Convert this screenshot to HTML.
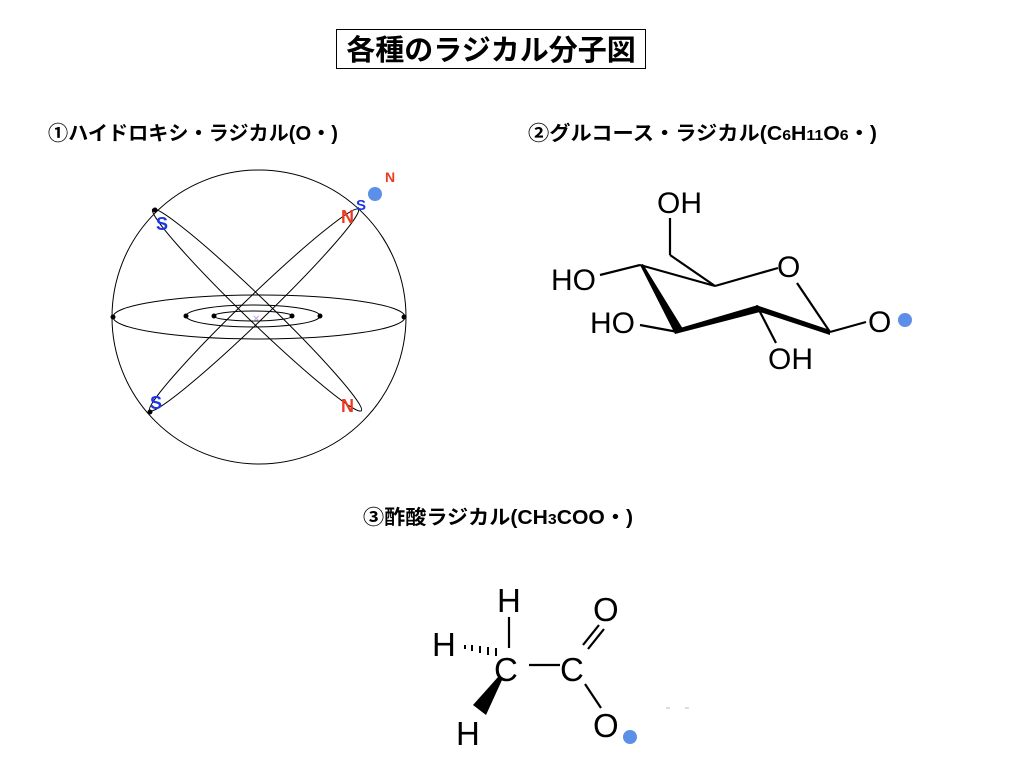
<!DOCTYPE html>
<html><head><meta charset="utf-8"><style>
html,body{margin:0;padding:0;background:#fff;}
svg{display:block}
text{font-family:"Liberation Sans","Noto Sans CJK JP",sans-serif}
</style></head><body>
<svg width="1024" height="768" viewBox="0 0 1024 768" xmlns="http://www.w3.org/2000/svg">
<rect x="336.5" y="29.5" width="309" height="39" fill="#fff" stroke="#000" stroke-width="1"/>
<text x="491" y="60" font-size="29" font-weight="bold" text-anchor="middle">各種のラジカル分子図</text>
<text x="48" y="140" font-size="20" font-weight="bold" textLength="290" lengthAdjust="spacingAndGlyphs">①ハイドロキシ・ラジカル(O・)</text>
<text x="528" y="140" font-size="20" font-weight="bold" textLength="349" lengthAdjust="spacingAndGlyphs">②グルコース・ラジカル(C<tspan font-size="15">6</tspan>H<tspan font-size="15">11</tspan>O<tspan font-size="15">6</tspan>・)</text>
<text x="363" y="524" font-size="20" font-weight="bold" textLength="270" lengthAdjust="spacingAndGlyphs">③酢酸ラジカル(CH<tspan font-size="15">3</tspan>COO・)</text>

<g fill="none" stroke="#000" stroke-width="1">
<circle cx="259" cy="317" r="147"/>
<ellipse cx="259" cy="317" rx="146" ry="22"/>
<ellipse cx="253" cy="316" rx="67" ry="11"/>
<ellipse cx="253" cy="316" rx="39" ry="5"/>
<ellipse cx="257" cy="310" rx="145" ry="12" transform="rotate(44 257 310)"/>
<ellipse cx="254" cy="310" rx="145" ry="12" transform="rotate(-44 254 310)"/>
</g>
<g fill="#000">
<circle cx="113" cy="317" r="2.5"/><circle cx="404" cy="317" r="2.5"/>
<circle cx="186" cy="316" r="2.5"/><circle cx="320" cy="316" r="2.5"/>
<circle cx="214" cy="316" r="2.5"/><circle cx="292" cy="316" r="2.5"/>
<circle cx="155" cy="210" r="2.5"/><circle cx="150" cy="412" r="2.5"/>
</g>
<text x="252" y="322" font-size="10" fill="#c8a0e0">✕</text>
<g font-weight="bold" font-size="18">
<text x="156" y="230" fill="#1a35e8">S</text>
<text x="150" y="409" fill="#1a35e8">S</text>
<text x="341" y="223" fill="#ea3a22">N</text>
<text x="341" y="412" fill="#ea3a22">N</text>
<text x="356" y="210" fill="#1a35e8" font-size="15">S</text>
<text x="385" y="182" fill="#ea3a22" font-size="14">N</text>
</g>
<circle cx="375" cy="194" r="7" fill="#5b8fe8"/>

<!-- glucose -->
<g stroke="#000" stroke-width="2.2" fill="none">
<line x1="640" y1="265" x2="715" y2="286"/>
<line x1="715" y1="286" x2="778" y2="268"/>
<line x1="797" y1="283" x2="830" y2="332"/>
<line x1="715" y1="286" x2="670" y2="255"/>
<line x1="670" y1="255" x2="670" y2="218"/>
<line x1="640" y1="265" x2="600" y2="275"/>
<line x1="678" y1="332" x2="640" y2="325"/>
<line x1="758" y1="308" x2="776" y2="343"/>
<line x1="830" y1="332" x2="866" y2="322"/>
</g>
<polygon points="640,265 643,264 683,329 675,334" fill="#000"/>
<polygon points="675,334 680,328 758,305 760,312" fill="#000"/>
<polygon points="756,305 760,312 830,335 830,330" fill="#000"/>
<g font-size="30" fill="#000">
<text x="657" y="213">OH</text>
<text x="551" y="290">HO</text>
<text x="777" y="277">O</text>
<text x="590" y="333">HO</text>
<text x="768" y="369">OH</text>
<text x="868" y="332">O</text>
</g>
<circle cx="905" cy="320" r="7" fill="#5b8fe8"/>

<!-- acetate -->
<g stroke="#000" stroke-width="2.2" fill="none">
<line x1="509" y1="617" x2="509" y2="648"/>
<line x1="529" y1="665" x2="560" y2="665"/>
<line x1="583" y1="645" x2="599" y2="625"/>
<line x1="588" y1="649" x2="604" y2="629"/>
<line x1="585" y1="684" x2="601" y2="708"/>
</g>
<g stroke="#000" stroke-width="2">
<line x1="465" y1="645" x2="465" y2="649"/>
<line x1="472" y1="645" x2="472" y2="651"/>
<line x1="480" y1="646" x2="480" y2="653"/>
<line x1="488" y1="647" x2="488" y2="655"/>
<line x1="496" y1="648" x2="496" y2="656"/>
</g>
<polygon points="498,677 502,680 486,715 473,705" fill="#000"/>
<g font-size="33" fill="#000">
<text x="497" y="612">H</text>
<text x="432" y="656">H</text>
<text x="494" y="681">C</text>
<text x="560" y="681">C</text>
<text x="593" y="621">O</text>
<text x="593" y="737">O</text>
<text x="456" y="745">H</text>
</g>
<circle cx="630" cy="737" r="7" fill="#5b8fe8"/>
<g stroke="#bbb" stroke-width="1"><line x1="666" y1="708" x2="670" y2="708"/><line x1="685" y1="708" x2="689" y2="708"/></g>
</svg>
</body></html>
